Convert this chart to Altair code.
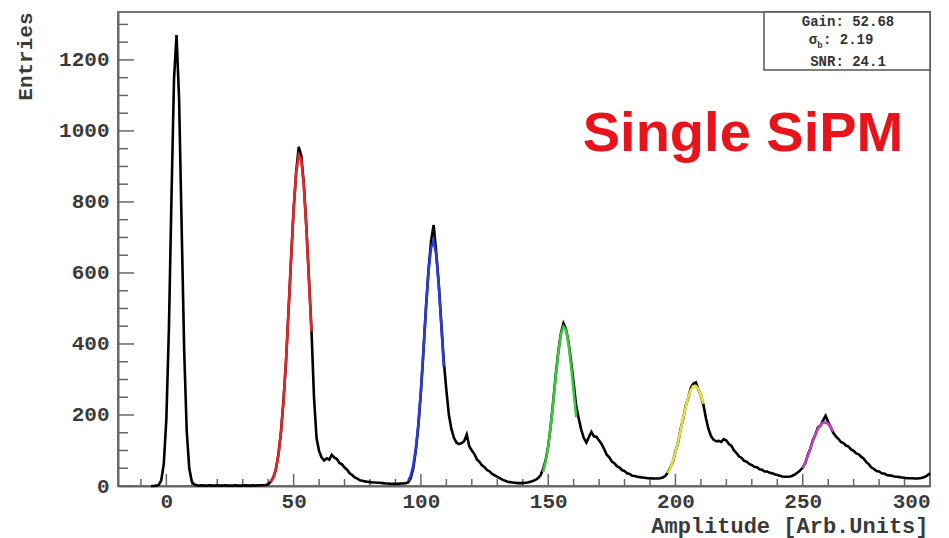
import altair as alt
import pandas as pd

# ---------------- data ----------------
X_MIN, X_MAX = -19, 300
Y_MAX = 1335

HIST_START = -6
hist_counts = [
    0, 0, 1, 3, 16, 63,
    189, 443, 808, 1146, 1270, 1090, 731, 382, 155, 49,
    12, 4, 2, 1, 2, 1, 1, 2, 1, 1,
    2, 1, 1, 2, 1, 1, 1, 2, 1, 1,
    1, 2, 1, 1, 2, 1, 2, 2, 2, 3,
    5, 12, 24, 46, 88, 150, 240, 350, 495, 640,
    780, 885, 955, 930, 850, 730, 585, 440, 250, 135,
    98, 80, 72, 78, 74, 88, 80, 76, 65, 61,
    52, 46, 36, 31, 24, 21, 16, 15, 13, 12,
    11, 10, 10, 9, 9, 8, 7, 7, 6, 6,
    6, 6, 7, 7, 8, 10, 22, 50, 100, 170,
    265, 380, 505, 610, 690, 735, 660, 570, 460, 350,
    270, 200, 160, 135, 122, 118, 121, 126, 145, 112,
    100, 90, 75, 68, 58, 53, 45, 41, 34, 30,
    26, 22, 18, 15, 12, 11, 10, 9, 8, 8,
    8, 9, 10, 12, 14, 17, 22, 30, 48, 72,
    112, 170, 240, 315, 380, 430, 458, 442, 405, 350,
    290, 225, 190, 158, 135, 122, 138, 152, 140, 138,
    128, 118, 104, 88, 81, 69, 64, 56, 52, 45,
    42, 36, 34, 29, 28, 26, 25, 24, 23, 22,
    22, 21, 21, 21, 22, 24, 28, 38, 52, 68,
    97, 122, 160, 188, 225, 248, 275, 288, 292, 272,
    255, 228, 190, 160, 140, 130, 126, 127, 124, 132,
    128, 118, 113, 100, 93, 83, 79, 71, 68, 62,
    59, 54, 53, 47, 46, 41, 41, 37, 36, 33,
    31, 29, 27, 26, 26, 27, 29, 33, 38, 44,
    52, 64, 88, 105, 130, 145, 165, 170, 185, 198,
    180, 165, 150, 140, 133, 124, 121, 114, 111, 103,
    99, 92, 89, 82, 77, 67, 61, 52, 48, 42,
    41, 36, 35, 31, 30, 29, 27, 26, 25, 24,
    23, 22, 22, 22, 21, 21, 22, 23, 26, 30,
    36,
]
hist_amp = list(range(HIST_START, HIST_START + len(hist_counts)))

fit_names = ["1 p.e.", "2 p.e.", "3 p.e.", "4 p.e.", "5 p.e."]
fit_colors = ["#e3262a", "#2b3bd6", "#3cc83c", "#e0e040", "#c040c8"]
fit_start = [41, 95, 148, 197, 250]
fit_values = [
    [11, 24, 47, 86, 148, 237, 353, 493, 641, 779, 882, 932, 919, 846, 727, 582, 435],
    [14, 29, 58, 105, 175, 269, 383, 501, 605, 672, 690, 651, 566, 454, 336],
    [39, 68, 111, 168, 236, 310, 377, 427, 449, 440, 400, 338, 266, 194],
    [36, 50, 70, 95, 124, 157, 190, 222, 250, 270, 281, 282, 273, 255, 232],
    [50, 66, 85, 106, 127, 146, 161, 172, 178, 179, 175, 166, 154],
]

x_major = [0, 50, 100, 150, 200, 250, 300]
x_minor = [-10, 10, 20, 30, 40, 60, 70, 80, 90, 110, 120, 130, 140, 160, 170,
           180, 190, 210, 220, 230, 240, 260, 270, 280, 290]
y_major = [0, 200, 400, 600, 800, 1000, 1200]
y_minor = [50, 100, 150, 250, 300, 350, 450, 500, 550, 650, 700, 750, 850, 900,
           950, 1050, 1100, 1150, 1250, 1300]

stats_lines = ["Gain: 52.68", ": 2.19", "SNR: 24.1"]
label_text = "Single SiPM"

# ---------------- tables ----------------
hist_df = pd.DataFrame({"amp": hist_amp, "count": hist_counts})
fit_rows = []
for name, start, vals in zip(fit_names, fit_start, fit_values):
    for i, v in enumerate(vals):
        fit_rows.append({"amp": start + i, "count": v, "fit": name})
fit_df = pd.DataFrame(fit_rows)

W, H = 812, 474
MONO = "Liberation Mono"

xs = alt.Scale(domain=[X_MIN, X_MAX], nice=False, zero=False)
ys = alt.Scale(domain=[0, Y_MAX], nice=False, zero=False)

x_axis = alt.Axis(
    values=x_major, ticks=False, grid=False, format="d",
    title="Amplitude [Arb.Units]", titleAnchor="end", titleAlign="right",
    titleBaseline="middle", titleX=W - 2, titleY=39,
    titleFont=MONO, titleFontWeight="bold", titleFontSize=22, titleColor="#3a3a3a",
    labelFont=MONO, labelFontWeight="bold", labelFontSize=21, labelColor="#3a3a3a",
    labelPadding=4, domainColor="#666666", domainWidth=2,
)
y_axis = alt.Axis(
    values=y_major, ticks=False, grid=False, format="d",
    title="Entries", titleAngle=-90, titleAlign="right", titleBaseline="middle",
    titleX=-93, titleY=0,
    titleFont=MONO, titleFontWeight="bold", titleFontSize=21, titleColor="#3a3a3a",
    labelFont=MONO, labelFontWeight="bold", labelFontSize=21, labelColor="#3a3a3a",
    labelPadding=9, domainColor="#666666", domainWidth=2,
)

X = alt.X("amp:Q", scale=xs, axis=x_axis)
Y = alt.Y("count:Q", scale=ys, axis=y_axis)

hist = alt.Chart(hist_df).mark_line(color="black", strokeWidth=2.6).encode(x=X, y=Y)

fits = alt.Chart(fit_df).mark_line(strokeWidth=2.6).encode(
    x=X, y=Y,
    color=alt.Color("fit:N", scale=alt.Scale(domain=fit_names, range=fit_colors), legend=None),
)

tick_color = "#666666"
xmaj = alt.Chart(pd.DataFrame({"amp": x_major})).mark_rule(color=tick_color, strokeWidth=1.5).encode(
    x=X, y=alt.value(H), y2=alt.value(H - 12))
xmin = alt.Chart(pd.DataFrame({"amp": x_minor})).mark_rule(color=tick_color, strokeWidth=1.5).encode(
    x=X, y=alt.value(H), y2=alt.value(H - 7))
ymaj = alt.Chart(pd.DataFrame({"count": y_major})).mark_rule(color=tick_color, strokeWidth=1.5).encode(
    y=Y, x=alt.value(0), x2=alt.value(16))
ymin = alt.Chart(pd.DataFrame({"count": y_minor})).mark_rule(color=tick_color, strokeWidth=1.5).encode(
    y=Y, x=alt.value(0), x2=alt.value(10))

one = pd.DataFrame({"k": [0]})
box = alt.Chart(one).mark_rect(fill="white", stroke="#555555", strokeWidth=1.5).encode(
    x=alt.value(646), x2=alt.value(W), y=alt.value(0), y2=alt.value(58))

stat_style = dict(font=MONO, fontWeight="bold", fontSize=14, color="#333333", baseline="middle")
s1 = alt.Chart(one).mark_text(align="center", **stat_style).encode(
    x=alt.value(730), y=alt.value(10), text=alt.value(stats_lines[0]))
s2a = alt.Chart(one).mark_text(align="center", **stat_style).encode(
    x=alt.value(695), y=alt.value(28), text=alt.value("σ"))
s2b = alt.Chart(one).mark_text(align="center", font=MONO, fontWeight="bold", fontSize=9,
                                color="#333333", baseline="middle").encode(
    x=alt.value(702), y=alt.value(33), text=alt.value("b"))
s2c = alt.Chart(one).mark_text(align="left", **stat_style).encode(
    x=alt.value(705), y=alt.value(28), text=alt.value(stats_lines[1]))
s3 = alt.Chart(one).mark_text(align="center", **stat_style).encode(
    x=alt.value(730), y=alt.value(50), text=alt.value(stats_lines[2]))

big = alt.Chart(one).mark_text(
    font="Liberation Sans", fontWeight="bold", fontSize=56, color="#e8141c",
    align="center", baseline="alphabetic",
).encode(x=alt.value(625), y=alt.value(139), text=alt.value(label_text))

chart = alt.layer(
    xmin, xmaj, ymin, ymaj, hist, fits, box, s1, s2a, s2b, s2c, s3, big
).properties(
    width=W, height=H,
    autosize=alt.AutoSizeParams(type="none"),
    padding={"left": 118, "top": 12, "right": 19, "bottom": 52},
    background="white",
).configure_view(
    stroke="#777777", strokeWidth=2
)

chart.save("out.html", embed_options={"renderer": "svg", "actions": False})
